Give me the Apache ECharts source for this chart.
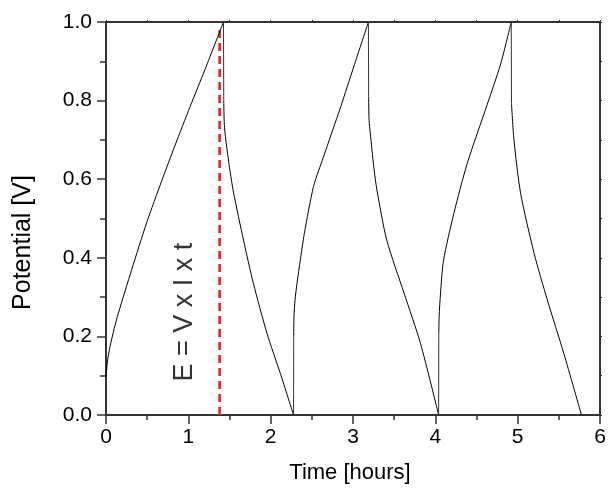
<!DOCTYPE html>
<html>
<head>
<meta charset="utf-8">
<script src="https://cdn.jsdelivr.net/npm/echarts@6/dist/echarts.min.js"></script>
<style>
html,body{margin:0;padding:0;background:#fff;}
#chart{width:610px;height:490px;}
</style>
</head>
<body>
<div id="chart"></div>
<script>
// Data (time in hours, potential in V)
const charge1 = [[0,0.097],[0.02,0.14],[0.049,0.174],[0.1,0.22],[0.15,0.259],[0.312,0.37],[0.495,0.49],[0.677,0.596],[0.84,0.687],[1.022,0.785],[1.204,0.88],[1.427,1.0]];
const drop1 = [[1.427,1.0],[1.43,0.80]];
const discharge1 = [[1.43,0.80],[1.437,0.74],[1.455,0.70],[1.50,0.63],[1.55,0.565],[1.67,0.445],[1.79,0.335],[1.955,0.208],[2.117,0.106],[2.278,0]];
const rise1 = [[2.278,0],[2.28,0.2]];
const charge2 = [[2.28,0.2],[2.283,0.25],[2.296,0.293],[2.32,0.335],[2.36,0.394],[2.409,0.462],[2.52,0.581],[2.64,0.656],[2.85,0.784],[3.009,0.886],[3.187,1.0]];
const drop2 = [[3.187,1.0],[3.19,0.81]];
const discharge2 = [[3.19,0.81],[3.195,0.75],[3.21,0.717],[3.252,0.632],[3.29,0.573],[3.41,0.445],[3.62,0.31],[3.82,0.182],[4.04,0]];
const rise2 = [[4.04,0],[4.042,0.208]];
const charge3 = [[4.042,0.208],[4.046,0.25],[4.063,0.31],[4.10,0.394],[4.225,0.513],[4.387,0.64],[4.63,0.79],[4.793,0.893],[4.922,1.0]];
const drop3 = [[4.922,1.0],[4.925,0.793]];
const discharge3 = [[4.925,0.793],[4.955,0.70],[5.036,0.564],[5.2,0.411],[5.36,0.293],[5.56,0.157],[5.775,0]];
const energyLine = [[1.38,0],[1.38,0.98]];
const annotation = [[0.96,0.262]];
const annotationText = 'E = V x I x t';
const xTitle = 'Time [hours]';
const yTitle = 'Potential [V]';

const curves = [charge1, discharge1, charge2, discharge2, charge3, discharge3];
const jumps = [drop1, rise1, drop2, rise2, drop3];
const FONT = "'Liberation Sans', Arial, Helvetica, sans-serif";
const axisColor = '#333';

const series = [];
curves.forEach(d => series.push({
  type: 'line', data: d, showSymbol: false, symbol: 'none', smooth: 0.25,
  lineStyle: {color: '#000', width: 1}, z: 3
}));
jumps.forEach(d => series.push({
  type: 'line', data: d, showSymbol: false, symbol: 'none',
  lineStyle: {color: '#333', width: 1}, z: 3
}));
series.push({
  type: 'line', data: energyLine, showSymbol: false, symbol: 'none',
  lineStyle: {color: '#f01818', width: 2.5, type: [8,5]}, z: 2
});
series.push({
  type: 'scatter', data: annotation, symbolSize: 0.1,
  itemStyle: {color: 'rgba(0,0,0,0)'},
  label: {show: true, position: 'inside', rotate: 90, formatter: annotationText,
    fontFamily: FONT, fontSize: 27, color: '#000', align: 'center', verticalAlign: 'middle'},
  z: 4
});

const chart = echarts.init(document.getElementById('chart'), null, {renderer:'canvas'});
chart.setOption({
  animation: false,
  backgroundColor: '#fff',
  grid: {left: 106, right: 10, top: 22, bottom: 75},
  xAxis: [{
    type: 'value', min: 0, max: 6, interval: 1,
    name: xTitle, nameLocation: 'middle', nameGap: 47,
    nameTextStyle: {fontFamily: FONT, fontSize: 22, color: '#000', padding: [0, 6, 0, 0]},
    axisLine: {show: true, onZero: false, lineStyle: {color: axisColor, width: 2}},
    axisTick: {show: true, length: 9, lineStyle: {color: axisColor, width: 1.5}},
    minorTick: {show: true, splitNumber: 2, length: 5, lineStyle: {color: axisColor, width: 1.5}},
    axisLabel: {fontFamily: FONT, fontSize: 21, color: '#000', margin: 12},
    splitLine: {show: false}
  },{
    type: 'value', min: 0, max: 6, interval: 1, position: 'top',
    axisLine: {show: true, onZero: false, lineStyle: {color: axisColor, width: 2}},
    axisTick: {show: true, length: 2, lineStyle: {color: axisColor}},
    minorTick: {show: true, splitNumber: 2, length: 2, lineStyle: {color: axisColor}},
    axisLabel: {show: false},
    splitLine: {show: false}
  }],
  yAxis: [{
    type: 'value', min: 0, max: 1, interval: 0.2,
    name: yTitle, nameLocation: 'middle', nameGap: 70,
    nameTextStyle: {fontFamily: FONT, fontSize: 25, color: '#000', padding: [0, 48, 0, 0]},
    axisLine: {show: true, onZero: false, lineStyle: {color: axisColor, width: 2}},
    axisTick: {show: true, length: 9, lineStyle: {color: axisColor, width: 1.5}},
    minorTick: {show: true, splitNumber: 2, length: 6, lineStyle: {color: axisColor, width: 1.5}},
    axisLabel: {fontFamily: FONT, fontSize: 21, color: '#000', margin: 14,
      formatter: v => v.toFixed(1)},
    splitLine: {show: false}
  },{
    type: 'value', min: 0, max: 1, interval: 0.2, position: 'right',
    axisLine: {show: true, onZero: false, lineStyle: {color: axisColor, width: 2}},
    axisTick: {show: true, length: 2, lineStyle: {color: axisColor}},
    minorTick: {show: true, splitNumber: 2, length: 2, lineStyle: {color: axisColor}},
    axisLabel: {show: false},
    splitLine: {show: false}
  }],
  series: series
});
</script>
</body>
</html>
